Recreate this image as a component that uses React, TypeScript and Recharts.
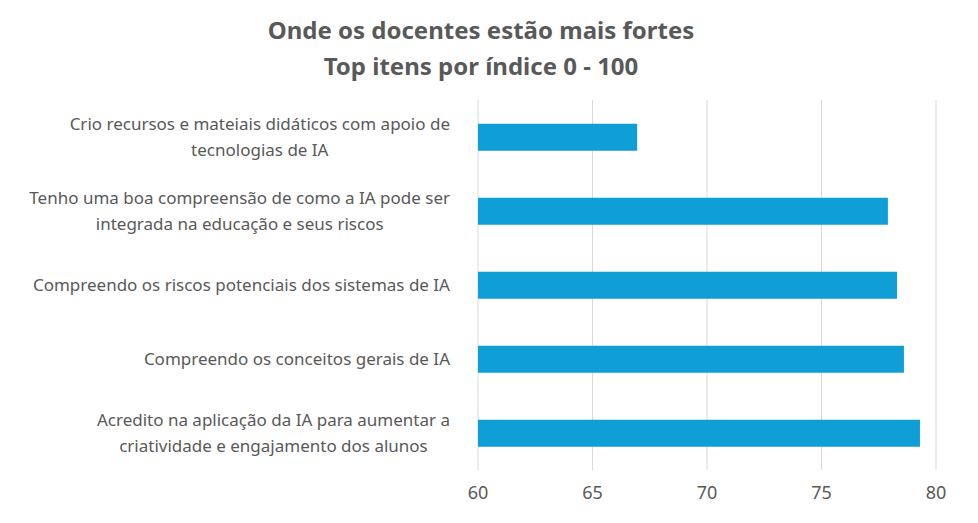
import { BarChart, Bar, XAxis, YAxis, CartesianGrid } from "recharts";

const categories = [
    "Crio recursos e mateiais didáticos com apoio de\ntecnologias de IA",
    "Tenho uma boa compreensão de como a IA pode ser\nintegrada na educação e seus riscos",
    "Compreendo os riscos potenciais dos sistemas de IA",
    "Compreendo os conceitos gerais de IA",
    "Acredito na aplicação da IA para aumentar a\ncriatividade e engajamento dos alunos",
];
const values = [66.95, 77.9, 78.3, 78.6, 79.3];
const xTicks = [60, 65, 70, 75, 80];

const data = categories.map((name, i) => ({ name, value: values[i] }));

const FONT = "17px 'Noto Sans', sans-serif";
let ctx: CanvasRenderingContext2D | null = null;
function measure(s: string) {
    if (!ctx) ctx = document.createElement("canvas").getContext("2d");
    if (!ctx) return s.length * 8;
    ctx.font = FONT;
    return ctx.measureText(s).width;
}

// eslint-disable-next-line @typescript-eslint/no-explicit-any
function CategoryTick({ x, y, payload }: any) {
    const lines: string[] = String(payload.value).split("\n");
    const w = Math.max(...lines.map(measure));
    const cx = x - 20 - w / 2;
    const lh = 26;
    const y0 = y - ((lines.length - 1) * lh) / 2;
    return (
        <text textAnchor="middle" fill="#595959" style={{ font: FONT }}>
            {lines.map((l, i) => (
                <tspan key={i} x={cx} y={y0 + i * lh} dy="0.35em">
                    {l}
                </tspan>
            ))}
        </text>
    );
}

export default function App() {
    return (
        <div style={{ margin: -8, width: 978, height: 523, background: "#fff", position: "relative", fontFamily: "'Noto Sans', sans-serif" }}>
            <div style={{ position: "absolute", top: 12, left: 0, width: 962, textAlign: "center", color: "#595959", fontSize: 24, fontWeight: 700, lineHeight: "36px" }}>
                Onde os docentes estão mais fortes
                <br />
                Top itens por índice 0 - 100
            </div>
            <BarChart
                layout="vertical"
                width={978}
                height={523}
                data={data}
                margin={{ top: 100, right: 42, bottom: 12, left: 0 }}
                barCategoryGap="32%"
            >
                <CartesianGrid horizontal={false} stroke="#d9d9d9" />
                <XAxis
                    type="number"
                    domain={[60, 80]}
                    ticks={xTicks}
                    axisLine={false}
                    tickLine={false}
                    height={41}
                    tick={{ fontSize: 18, fill: "#595959", dy: 8 }}
                />
                <YAxis
                    type="category"
                    dataKey="name"
                    width={478}
                    axisLine={false}
                    tickLine={false}
                    tick={<CategoryTick />}
                    interval={0}
                />
                <Bar dataKey="value" fill="#0f9ed5" isAnimationActive={false} />
            </BarChart>
        </div>
    );
}
